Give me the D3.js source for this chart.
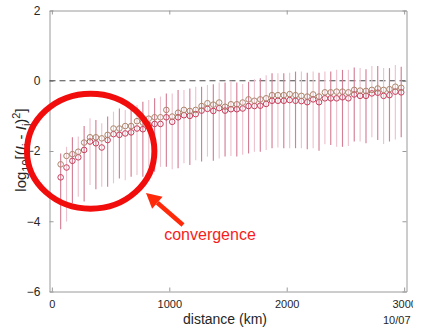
<!DOCTYPE html>
<html>
<head>
<meta charset="utf-8">
<script src="https://cdn.jsdelivr.net/npm/d3@7"></script>
<style>
  body { margin: 0; background: #fff; }
  svg { display: block; font-family: "Liberation Sans", Arial, sans-serif; }
</style>
</head>
<body>
<svg id="chart" width="413" height="333"></svg>
<script>
// bin centres (km)
const distance = [75, 125, 175, 225, 275, 325, 375, 425, 475, 525, 575, 625, 675, 725, 775,
  825, 875, 925, 975, 1025, 1075, 1125, 1175, 1225, 1275, 1325, 1375, 1425, 1475, 1525,
  1575, 1625, 1675, 1725, 1775, 1825, 1875, 1925, 1975, 2025, 2075, 2125, 2175, 2225, 2275,
  2325, 2375, 2425, 2475, 2525, 2575, 2625, 2675, 2725, 2775, 2825, 2875, 2925, 2975];

// upper series (tan circles)
const meanTan = [-2.38, -2.14, -2.09, -2.02, -1.76, -1.61, -1.61, -1.64, -1.54, -1.36, -1.36, -1.29,
  -1.29, -1.15, -1.19, -1.08, -1.04, -1.04, -0.83, -1.02, -0.91, -0.83, -0.86, -0.83, -0.72, -0.64,
  -0.68, -0.62, -0.74, -0.67, -0.67, -0.62, -0.53, -0.57, -0.53, -0.50, -0.41, -0.41, -0.41, -0.38,
  -0.41, -0.43, -0.45, -0.39, -0.45, -0.33, -0.33, -0.31, -0.31, -0.33, -0.26, -0.28, -0.29, -0.26,
  -0.22, -0.26, -0.24, -0.17, -0.20];

// lower series (crimson circles)
const meanRed = [-2.75, -2.47, -2.28, -2.18, -1.97, -1.73, -1.78, -1.90, -1.69, -1.52, -1.54, -1.50,
  -1.47, -1.36, -1.38, -1.26, -1.23, -1.23, -1.04, -1.17, -1.04, -0.98, -1.00, -0.95, -0.85, -0.80,
  -0.86, -0.78, -0.85, -0.81, -0.81, -0.79, -0.72, -0.72, -0.71, -0.66, -0.57, -0.57, -0.57, -0.55,
  -0.57, -0.58, -0.61, -0.53, -0.61, -0.50, -0.50, -0.50, -0.47, -0.50, -0.39, -0.43, -0.43, -0.36,
  -0.34, -0.43, -0.41, -0.31, -0.33];

// spread bars
const barHi = [-2.07, -1.88, -1.61, -1.59, -1.29, -1.07, -1.12, -1.21, -1.02, -0.88, -0.79, -0.83,
  -0.74, -0.69, -0.60, -0.55, -0.50, -0.45, -0.36, -0.36, -0.26, -0.26, -0.22, -0.17, -0.17, -0.12,
  -0.10, -0.05, -0.05, 0.00, -0.05, -0.09, -0.03, 0.04, 0.07, 0.16, 0.21, 0.21, 0.21, 0.23,
  0.26, 0.26, 0.23, 0.26, 0.23, 0.26, 0.26, 0.31, 0.31, 0.31, 0.38, 0.36, 0.33, 0.42,
  0.42, 0.36, 0.36, 0.45, 0.40];
const barLo = [-4.23, -4.01, -3.49, -3.30, -3.44, -2.97, -3.09, -3.02, -3.02, -2.92, -2.78, -2.83,
  -2.73, -2.68, -2.73, -2.45, -2.59, -2.45, -2.45, -2.52, -2.49, -2.35, -2.40, -2.26, -2.30, -2.16,
  -2.28, -2.21, -2.16, -2.14, -2.16, -2.11, -2.07, -2.02, -2.02, -1.97, -1.92, -1.90, -1.92, -1.92,
  -1.92, -1.92, -1.95, -1.92, -1.99, -1.81, -1.83, -1.88, -1.88, -1.86, -1.73, -1.73, -1.78, -1.61,
  -1.69, -1.80, -1.73, -1.67, -1.61];

const xTicks = [0, 1000, 2000, 3000];
const yTicks = [2, 0, -2, -4, -6];

const svg = d3.select('#chart');
const m = { left: 49.5, right: 406.5, top: 10.5, bottom: 291.5 };

const x = d3.scaleLinear().domain([-20, 3020]).range([m.left, m.right]);
const y = d3.scaleLinear().domain([-6, 2]).range([m.bottom, m.top]);

const axisColor = '#9a9a9a';
const textColor = '#262626';

// box + inward ticks
const axes = svg.append('g');
axes.append('g').attr('transform', `translate(0,${m.bottom})`)
  .call(d3.axisBottom(x).tickValues(xTicks).tickFormat(d3.format('d'))
    .tickSizeInner(-4).tickSizeOuter(0).tickPadding(9))
  .call(g => g.selectAll('text').attr('font-size', 11).attr('fill', textColor));
axes.append('g').attr('transform', `translate(0,${m.top})`)
  .call(d3.axisTop(x).tickValues(xTicks).tickSizeInner(-4).tickSizeOuter(0).tickFormat(''));
axes.append('g').attr('transform', `translate(${m.left},0)`)
  .call(d3.axisLeft(y).tickValues(yTicks).tickSizeInner(-4).tickSizeOuter(0).tickPadding(9))
  .call(g => g.selectAll('text').attr('font-size', 12).attr('fill', textColor));
axes.append('g').attr('transform', `translate(${m.right},0)`)
  .call(d3.axisRight(y).tickValues(yTicks).tickSizeInner(-4).tickSizeOuter(0).tickFormat(''));
axes.selectAll('.domain, .tick line').attr('stroke', axisColor);

// zero reference line
svg.append('line')
  .attr('x1', m.left).attr('x2', m.right)
  .attr('y1', y(0)).attr('y2', y(0))
  .attr('stroke', '#333').attr('stroke-width', 0.9)
  .attr('stroke-dasharray', '6,4');

const data = distance.map((d, i) => ({
  d, tan: meanTan[i], red: meanRed[i], hi: barHi[i], lo: barLo[i], i
}));

svg.append('g').selectAll('line')
  .data(data)
  .join('line')
  .attr('x1', d => x(d.d)).attr('x2', d => x(d.d))
  .attr('y1', d => y(d.hi)).attr('y2', d => y(d.lo))
  .attr('stroke', d => (d.i % 2 ? '#ecc3ce' : '#d47f96'))
  .attr('stroke-width', 1.15);

svg.append('g').selectAll('circle')
  .data(data)
  .join('circle')
  .attr('cx', d => x(d.d)).attr('cy', d => y(d.red))
  .attr('r', 2.8)
  .attr('fill', 'none')
  .attr('stroke', '#c63f5c').attr('stroke-width', 1);

svg.append('g').selectAll('circle')
  .data(data)
  .join('circle')
  .attr('cx', d => x(d.d)).attr('cy', d => y(d.tan))
  .attr('r', 2.8)
  .attr('fill', 'none')
  .attr('stroke', '#ab856c').attr('stroke-width', 1);

// axis labels
svg.append('text')
  .attr('x', 225).attr('y', 324)
  .attr('text-anchor', 'middle')
  .attr('font-size', 14).attr('fill', textColor)
  .text('distance (km)');

svg.append('text')
  .attr('x', 383).attr('y', 324)
  .attr('font-size', 11).attr('fill', textColor)
  .text('10/07');

const yl = svg.append('text')
  .attr('transform', 'translate(26,150) rotate(-90)')
  .attr('text-anchor', 'middle')
  .attr('font-size', 15).attr('fill', textColor);
yl.append('tspan').text('log');
yl.append('tspan').attr('font-size', 11).attr('dy', 4).text('10');
yl.append('tspan').attr('dy', -4).text('[(');
yl.append('tspan').attr('font-style', 'italic').text('I');
yl.append('tspan').attr('font-size', 11).attr('dy', 4).text('i');
yl.append('tspan').attr('dy', -4).text(' - ');
yl.append('tspan').attr('font-style', 'italic').text('I');
yl.append('tspan').attr('font-size', 11).attr('dy', 4).text('j');
yl.append('tspan').attr('dy', -4).text(')');
yl.append('tspan').attr('font-size', 11).attr('dy', -6).text('2');
yl.append('tspan').attr('dy', 6).text(']');

// annotation
svg.append('ellipse')
  .attr('cx', 90.7).attr('cy', 151.2)
  .attr('rx', 63.7).attr('ry', 57.5)
  .attr('fill', 'none')
  .attr('stroke', '#f20d0d').attr('stroke-width', 6);

const tail = [183, 225], tip = [146, 193];
const ang = Math.atan2(tip[1] - tail[1], tip[0] - tail[0]);
const headLen = 15, headW = 8;
const bx = tip[0] - headLen * Math.cos(ang), by = tip[1] - headLen * Math.sin(ang);
svg.append('line')
  .attr('x1', tail[0]).attr('y1', tail[1]).attr('x2', bx).attr('y2', by)
  .attr('stroke', '#ff2a0a').attr('stroke-width', 4.5);
svg.append('polygon')
  .attr('points', [
    tip,
    [bx + headW * Math.sin(ang), by - headW * Math.cos(ang)],
    [bx - headW * Math.sin(ang), by + headW * Math.cos(ang)]
  ].map(p => p.join(',')).join(' '))
  .attr('fill', '#ff2a0a');

svg.append('text')
  .attr('x', 210).attr('y', 240)
  .attr('text-anchor', 'middle')
  .attr('font-size', 16).attr('fill', '#f51d1d')
  .text('convergence');
</script>
</body>
</html>
